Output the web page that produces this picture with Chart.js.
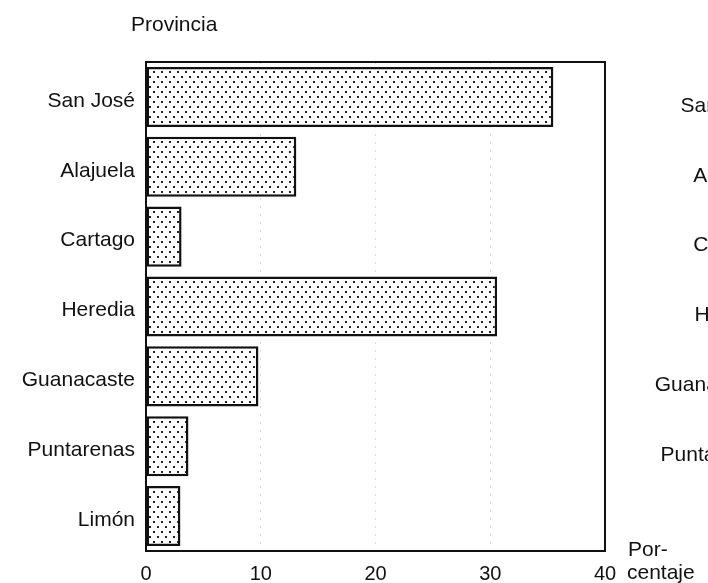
<!DOCTYPE html>
<html>
<head>
<meta charset="utf-8">
<script src="https://cdn.jsdelivr.net/npm/chart.js@4"></script>
<style>
    html, body { margin: 0; padding: 0; background: #fff; }
    #wrap { width: 708px; height: 583px; }
</style>
</head>
<body>
<div id="wrap"><canvas id="chart" width="708" height="583"></canvas></div>
<script>
// Provincias (categories) and their percentages
const provincias = ['San José', 'Alajuela', 'Cartago', 'Heredia', 'Guanacaste', 'Puntarenas', 'Limón'];
const porcentajes = [35.5, 13.1, 3.1, 30.6, 9.8, 3.7, 3.0];
const xTicks = [0, 10, 20, 30, 40];

const FONT = '"Liberation Sans", Arial, Helvetica, sans-serif';

// --- Dotted fill like the printed screen ---
function dotPattern() {
    const c = document.createElement('canvas');
    c.width = 8;
    c.height = 10;
    const g = c.getContext('2d');
    g.fillStyle = '#fff';
    g.fillRect(0, 0, 8, 10);
    g.fillStyle = '#222';
    g.fillRect(1, 1, 2, 2);
    g.fillRect(5, 6, 2, 2);
    return g.createPattern(c, 'repeat');
}

// --- Frame and extra labels ---
const extras = {
    id: 'extras',
    afterDraw(chart) {
        const ctx = chart.ctx;
        const a = chart.chartArea;
        const y = chart.scales.y;
        ctx.save();
        ctx.strokeStyle = '#111';
        ctx.lineWidth = 2;
        ctx.strokeRect(a.left, a.top, a.right - a.left, a.bottom - a.top);

        ctx.fillStyle = '#111';
        ctx.font = '21px ' + FONT;
        ctx.textBaseline = 'middle';
        ctx.textAlign = 'left';
        ctx.fillText('Provincia', 131, 25);
        ctx.fillText('Por-', 628, 550);
        ctx.fillText('centaje', 627, 573);

        // labels of the neighbouring chart, cut by the page edge
        ctx.textAlign = 'right';
        provincias.slice(0, 6).forEach(function (p, i) {
            ctx.fillText(p, 768, y.getPixelForValue(i) + 9);
        });
        ctx.restore();
    }
};

new Chart(document.getElementById('chart').getContext('2d'), {
    type: 'bar',
    data: {
        labels: provincias,
        datasets: [{
            data: porcentajes,
            backgroundColor: dotPattern(),
            borderColor: '#111',
            borderWidth: 2.5,
            borderSkipped: false,
            barPercentage: 0.86,
            categoryPercentage: 1
        }]
    },
    options: {
        indexAxis: 'y',
        responsive: false,
        animation: false,
        layout: { padding: { top: 62, right: 103, left: 0, bottom: 0 } },
        plugins: {
            legend: { display: false },
            tooltip: { enabled: false }
        },
        scales: {
            x: {
                min: 0,
                max: 40,
                afterBuildTicks(s) { s.ticks = xTicks.map(v => ({ value: v })); },
                afterFit(s) { s.height = 32; },
                border: { display: false, dash: [2, 6] },
                grid: {
                    drawTicks: false,
                    color: 'rgba(0,0,0,0.15)',
                    lineWidth: 1
                },
                ticks: {
                    color: '#111',
                    padding: 11,
                    font: { family: FONT, size: 20 }
                }
            },
            y: {
                afterFit(s) { s.width = 146; },
                border: { display: false },
                grid: { display: false, drawTicks: false },
                ticks: {
                    color: '#111',
                    padding: 11,
                    labelOffset: 4,
                    font: { family: FONT, size: 21 }
                }
            }
        }
    },
    plugins: [extras]
});
</script>
</body>
</html>
